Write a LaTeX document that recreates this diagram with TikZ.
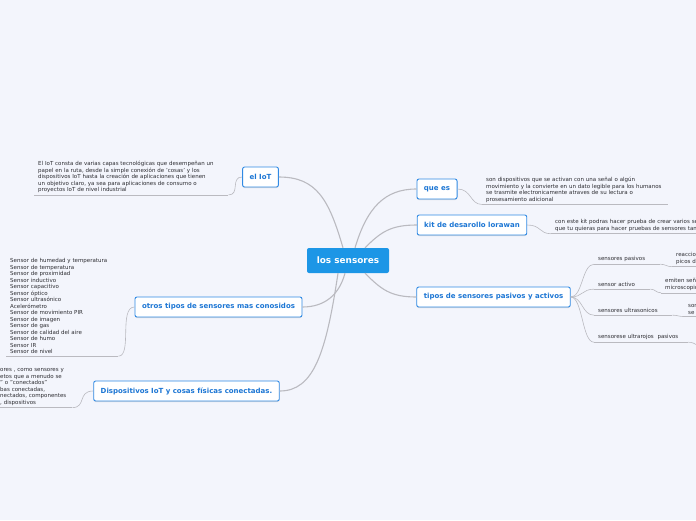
\documentclass[tikz,border=0pt]{standalone}
\usepackage{fontspec}
\setmainfont{DejaVu Sans}
\usepackage{xcolor}
\usepackage{tikz}
\usetikzlibrary{shadows}

\definecolor{bgcol}{RGB}{243,245,252}
\definecolor{mainblue}{RGB}{28,150,230}
\definecolor{topicline}{RGB}{48,138,228}
\definecolor{topictext}{RGB}{28,118,212}
\definecolor{linegray}{RGB}{186,186,192}
\definecolor{leaftext}{RGB}{45,45,50}

\begin{document}
\begin{tikzpicture}[
  x=1pt, y=-1pt,
  mainnode/.style={fill=mainblue, text=white, rounded corners=2pt, font=\fontsize{8.9}{10}\selectfont\bfseries, minimum width=82pt, minimum height=25pt, inner sep=0pt},
  topic/.style={draw=topicline, line width=0.9pt, fill=white, rounded corners=2pt, text=topictext, font=\fontsize{7}{8}\selectfont\bfseries, minimum height=20pt, inner xsep=7pt, inner ysep=0pt, drop shadow={shadow xshift=0pt, shadow yshift=-1pt, opacity=0.25}},
  leaf/.style={anchor=north west, align=left, text=leaftext, font=\fontsize{5.5}{6.5}\selectfont, inner xsep=4pt, inner ysep=2pt},
  branch/.style={draw=linegray, line width=1.1pt},
  twig/.style={draw=linegray, line width=0.6pt}
]
\path[use as bounding box, fill=bgcol] (0,0) rectangle (696,520);
\clip (0,0) rectangle (696,520);

% central idea and main topics
\node[mainnode] (main) at (348,260.5) {los sensores};
\node[topic] (iot) at (260.5,177) {el IoT};
\node[topic] (quees) at (437,189) {que es};
\node[topic] (kit) at (472,225) {kit de desarollo lorawan};
\node[topic] (tipos) at (493.5,297) {tipos de sensores pasivos y activos};
\node[topic] (otros) at (218.5,307) {otros tipos de sensores mas conosidos};
\node[topic] (disp) at (186.5,391) {Dispositivos IoT y cosas físicas conectadas.};

% texts under the topics
\node[leaf, text width=186pt] (iotdesc) at (34,159) {El IoT consta de varias capas tecnológicas que desempeñan un\\papel en la ruta, desde la simple conexión de 'cosas' y los\\dispositivos IoT hasta la creación de aplicaciones que tienen\\un objetivo claro, ya sea para aplicaciones de consumo o\\proyectos IoT de nivel industrial};
\node[leaf, text width=178pt] (queesdesc) at (482,175) {son dispositivos que se activan con una señal o algún\\movimiento y la convierte en un dato legible para los humanos\\se trasmite electronicamente atraves de su lectura o\\prosesamiento adicional};
\node[leaf, text width=200pt] (kitdesc) at (551,217.5) {con este kit podras hacer prueba de crear varios se\\que tu quieras para hacer pruebas de sensores tan};
\node[leaf, text width=104pt] (otroslist) at (6,256.5) {Sensor de humedad y temperatura\\Sensor de temperatura\\Sensor de proximidad\\Sensor inductivo\\Sensor capacitivo\\Sensor óptico\\Sensor ultrasónico\\Acelerómetro\\Sensor de movimiento PIR\\Sensor de imagen\\Sensor de gas\\Sensor de calidad del aire\\Sensor de humo\\Sensor IR\\Sensor de nivel};
\node[leaf, text width=68pt] (dispdesc) at (-4,366.5) {ores , como sensores y\\etos que a menudo se\\" o "conectados"\\bas conectadas,\\nectados, componentes\\, dispositivos};

% kinds of sensors
\node[leaf, text width=58pt] (pas) at (594,254.5) {sensores pasivos};
\node[leaf, text width=48pt] (act) at (594,280.5) {sensor activo};
\node[leaf, text width=70pt] (ultra) at (594,306.5) {sensores ultrasonicos};
\node[leaf, text width=86pt] (infra) at (594,332.5) {sensorese ultrarojos~ pasivos};
\node[leaf, text width=40pt] (pasdesc) at (672,250.5) {reaccio\\picos d};
\node[leaf, text width=40pt] (actdesc) at (661,276.5) {emiten señ\\microscopio};
\node[leaf, text width=30pt] (ultradesc) at (684,302.5) {son\\se};
\coordinate (infraend) at (706,348);

% branches from the centre
\draw[branch] ([xshift=-5pt]main.north) .. controls +(-14,-48) and +(38,0) .. (iot.east);
\draw[branch] ([xshift=7pt]main.north) .. controls +(12,-40) and +(-32,0) .. (quees.west);
\draw[branch] ([xshift=17pt]main.north) .. controls +(16,-16) and +(-26,0) .. (kit.west);
\draw[branch] ([xshift=17pt]main.south) .. controls +(16,16) and +(-26,0) .. (tipos.west);
\draw[branch] ([xshift=-3pt]main.south) .. controls +(-6,22) and +(22,0) .. (otros.east);
\draw[branch] ([xshift=-10pt]main.south) .. controls +(-12,80) and +(34,0) .. (disp.east);

% underlines and twigs
\foreach \n in {iotdesc,queesdesc,kitdesc,otroslist,dispdesc,pas,act,ultra,infra,pasdesc,actdesc,ultradesc}
  \draw[twig] (\n.south west) -- (\n.south east);
\draw[twig] (iot.west) .. controls +(-12,0) and +(12,0) .. (iotdesc.south east);
\draw[twig] (quees.east) .. controls +(14,0) and +(-12,0) .. (queesdesc.south west);
\draw[twig] (kit.east) .. controls +(14,0) and +(-12,0) .. (kitdesc.south west);
\draw[twig] (otros.west) .. controls +(-16,0) and +(14,0) .. (otroslist.south east);
\draw[twig] (disp.west) .. controls +(-16,0) and +(14,0) .. (dispdesc.south east);
\foreach \n in {pas,act,ultra,infra}
  \draw[twig] (tipos.east) .. controls +(12,0) and +(-12,0) .. (\n.south west);
\draw[twig] (pas.south east) .. controls +(5,0) and +(-5,0) .. (pasdesc.south west);
\draw[twig] (act.south east) .. controls +(5,0) and +(-5,0) .. (actdesc.south west);
\draw[twig] (ultra.south east) .. controls +(5,0) and +(-5,0) .. (ultradesc.south west);
\draw[twig] (infra.south east) .. controls +(8,0) and +(-8,0) .. (infraend);
\end{tikzpicture}
\end{document}
